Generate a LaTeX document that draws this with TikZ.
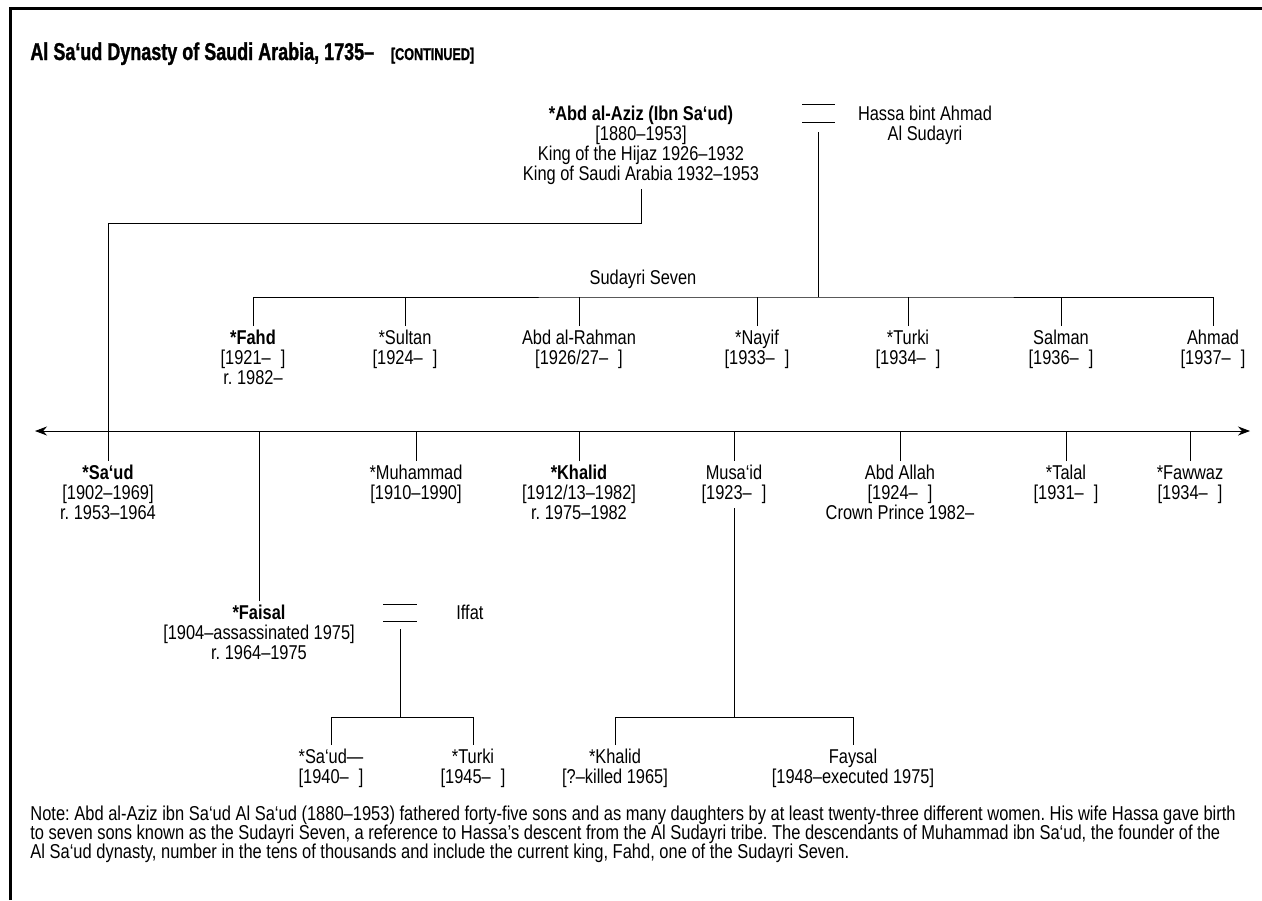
\documentclass[tikz,border=0pt]{standalone}
\usepackage{fontspec}
\setmainfont{Liberation Sans}[FakeStretch=0.82]
\newfontfamily\headfont{Liberation Sans}[FakeStretch=0.74, BoldFeatures={FakeBold=1.2}]
\usetikzlibrary{arrows.meta,positioning,calc}
\frenchspacing

\begin{document}
\begin{tikzpicture}[x = 0.5pt, y = -0.5pt, >={Stealth[length=6pt, width=4.5pt]},
	txt/.style = {align = center, inner sep = 2pt, anchor = north, font = \fontsize{10}{10}\selectfont},
	head/.style = {anchor = base west, inner sep = 0pt}]%family tree
	\useasboundingbox (0,0) rectangle (1262,900);
	\draw[line width = 1.5pt] (10,900) -- (10,8) -- (1262,8);
	\node[head, font = \headfont\bfseries\fontsize{12.15}{12}\selectfont] (TITLE) at (30,60) {Al Sa‘ud Dynasty of Saudi Arabia, 1735–};
	\node[head, font = \headfont\bfseries\fontsize{8.5}{8.5}\selectfont] (CONT) at ($(TITLE.base east)+(16,0)$) {[CONTINUED]};

	\node[txt] (AZIZ) at (641,102) {\textbf{*Abd al-Aziz (Ibn Sa‘ud)}\\{}[1880–1953]\\King of the Hijaz 1926–1932\\King of Saudi Arabia 1932–1953};
	\node[txt] (HASSA) at (925,102) {Hassa bint Ahmad\\Al Sudayri};
	\draw (802,104) -- ++(33,0) (802,122) -- ++(33,0);
	\coordinate (M1) at (818,132);
	\coordinate (B1) at (818,297);
	\coordinate (J1) at (641,223);

	% sons of Hassa
	\node[txt] (SEVEN) at (643,266) {Sudayri Seven};
	\node[txt] (FAHD) at (253,326) {\textbf{*Fahd}\\{}[1921–\enspace]\\r. 1982–};
	\node[txt] (SULTAN) at (405,326) {*Sultan\\{}[1924–\enspace]};
	\node[txt] (RAHMAN) at (579,326) {Abd al-Rahman\\{}[1926/27–\enspace]};
	\node[txt] (NAYIF) at (757,326) {*Nayif\\{}[1933–\enspace]};
	\node[txt] (TURKI) at (908,326) {*Turki\\{}[1934–\enspace]};
	\node[txt] (SALMAN) at (1061,326) {Salman\\{}[1936–\enspace]};
	\node[txt] (AHMAD) at (1213,326) {Ahmad\\{}[1937–\enspace]};
	\draw (M1) -- (B1)
	(FAHD.north) |- (B1) -| (AHMAD.north)
	(SULTAN.north) -- (SULTAN.north |- B1)
	(RAHMAN.north) -- (RAHMAN.north |- B1)
	(NAYIF.north) -- (NAYIF.north |- B1)
	(TURKI.north) -- (TURKI.north |- B1)
	(SALMAN.north) -- (SALMAN.north |- B1);

	% other sons
	\coordinate (TL) at (35,431);
	\coordinate (TR) at (1250,431);
	\draw[<->] (TL) -- (TR);
	\node[txt] (SAUD) at (108,461) {\textbf{*Sa‘ud}\\{}[1902–1969]\\r. 1953–1964};
	\node[txt] (MUHAMMAD) at (416,461) {*Muhammad\\{}[1910–1990]};
	\node[txt] (KHALID) at (579,461) {\textbf{*Khalid}\\{}[1912/13–1982]\\r. 1975–1982};
	\node[txt] (MUSAID) at (734,461) {Musa‘id\\{}[1923–\enspace]};
	\node[txt] (ABDALLAH) at (900,461) {Abd Allah\\{}[1924–\enspace]\\Crown Prince 1982–};
	\node[txt] (TALAL) at (1066,461) {*Talal\\{}[1931–\enspace]};
	\node[txt] (FAWWAZ) at (1190,461) {*Fawwaz\\{}[1934–\enspace]};
	\node[txt] (FAISAL) at (259,601) {\textbf{*Faisal}\\{}[1904–assassinated 1975]\\r. 1964–1975};
	\draw (AZIZ.south) -- (J1) -| (SAUD.north)
	(FAISAL.north) -- (FAISAL.north |- TL)
	(MUHAMMAD.north) -- (MUHAMMAD.north |- TL)
	(KHALID.north) -- (KHALID.north |- TL)
	(MUSAID.north) -- (MUSAID.north |- TL)
	(ABDALLAH.north) -- (ABDALLAH.north |- TL)
	(TALAL.north) -- (TALAL.north |- TL)
	(FAWWAZ.north) -- (FAWWAZ.north |- TL);

	% grandsons
	\node[txt, anchor = west] (IFFAT) at (452,612) {Iffat};
	\draw (383,604) -- ++(34,0) (383,621) -- ++(34,0);
	\coordinate (M2) at (400,629);
	\coordinate (B2) at (400,717);
	\node[txt] (SAUDII) at (331,745) {*Sa‘ud—\\{}[1940–\enspace]};
	\node[txt] (TURKII) at (473,745) {*Turki\\{}[1945–\enspace]};
	\node[txt] (KHALIDII) at (615,745) {*Khalid\\{}[?–killed 1965]};
	\node[txt] (FAYSAL) at (853,745) {Faysal\\{}[1948–executed 1975]};
	\draw (M2) -- (B2)
	(SAUDII.north) |- (B2) -| (TURKII.north)
	(MUSAID.south) -- (MUSAID.south |- B2)
	(KHALIDII.north) |- (MUSAID.south |- B2) -| (FAYSAL.north);

	\node[anchor = north west, align = left, inner sep = 0pt, font = \fontsize{10.05}{9.5}\selectfont] (NOTE) at (30,806) {Note: Abd al-Aziz ibn Sa‘ud Al Sa‘ud (1880–1953) fathered forty-five sons and as many daughters by at least twenty-three different women. His wife Hassa gave birth\\to seven sons known as the Sudayri Seven, a reference to Hassa’s descent from the Al Sudayri tribe. The descendants of Muhammad ibn Sa‘ud, the founder of the\\Al Sa‘ud dynasty, number in the tens of thousands and include the current king, Fahd, one of the Sudayri Seven.};
\end{tikzpicture}
\end{document}
